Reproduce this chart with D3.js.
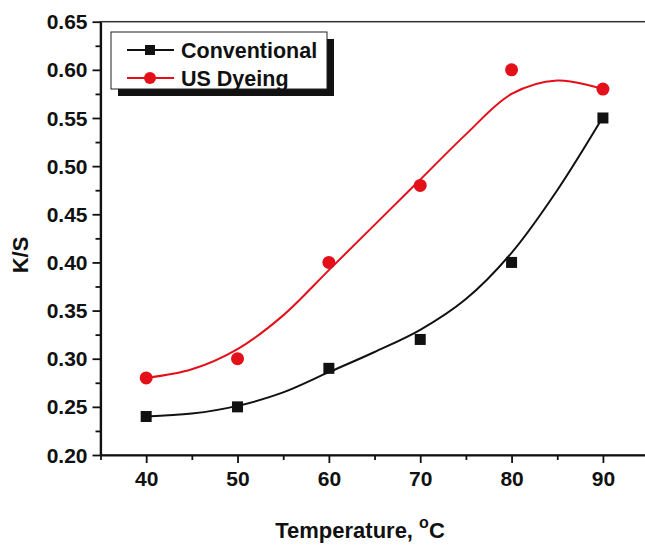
<!DOCTYPE html>
<html>
<head>
<meta charset="utf-8">
<script src="https://cdn.jsdelivr.net/npm/d3@7"></script>
<style>
  body { margin: 0; background: #fff; }
  text { font-family: "Liberation Sans", Arial, sans-serif; font-weight: bold; fill: #111; }
</style>
</head>
<body>
<div id="chart"></div>
<script>
var width = 645, height = 545;

// measured points
var temps = [40, 50, 60, 70, 80, 90];
var conventional = [0.24, 0.25, 0.29, 0.32, 0.40, 0.55];
var usDyeing = [0.28, 0.30, 0.40, 0.48, 0.60, 0.58];

// fitted curves
var fitTemps = [40, 45, 50, 55, 60, 65, 70, 75, 80, 85, 90];
var fitConventional = [0.240, 0.243, 0.251, 0.265, 0.286, 0.307, 0.330, 0.362, 0.410, 0.475, 0.551];
var fitUS = [0.280, 0.289, 0.310, 0.345, 0.392, 0.439, 0.486, 0.533, 0.575, 0.589, 0.580];

var xTicks = [40, 50, 60, 70, 80, 90];
var yTicks = [0.20, 0.25, 0.30, 0.35, 0.40, 0.45, 0.50, 0.55, 0.60, 0.65];

var seriesNames = ["Conventional", "US Dyeing"];
var colors = ["#111111", "#e3101a"];

var svg = d3.select("#chart").append("svg")
    .attr("width", width)
    .attr("height", height);

var x = d3.scaleLinear().domain([35, 95]).range([100.5, 648.6]);
var y = d3.scaleLinear().domain([0.20, 0.65]).range([455, 21.7]);

// frame (right side falls off the canvas)
svg.append("rect")
    .attr("x", x(35)).attr("y", y(0.65))
    .attr("width", x(95) - x(35)).attr("height", y(0.20) - y(0.65))
    .attr("fill", "none").attr("stroke", "#333").attr("stroke-width", 1.5);

// minor ticks
svg.append("g")
    .attr("transform", "translate(0," + y(0.20) + ")")
    .call(d3.axisBottom(x).tickValues([35, 45, 55, 65, 75, 85, 95]).tickSize(5).tickFormat(""))
    .call(g => g.select(".domain").remove())
    .selectAll("line").attr("stroke", "#111").attr("stroke-width", 1.8);

svg.append("g")
    .attr("transform", "translate(" + x(35) + ",0)")
    .call(d3.axisLeft(y).tickValues(d3.range(0.225, 0.65, 0.05)).tickSize(5).tickFormat(""))
    .call(g => g.select(".domain").remove())
    .selectAll("line").attr("stroke", "#111").attr("stroke-width", 1.8);

// major axes
var xAxis = svg.append("g")
    .attr("transform", "translate(0," + y(0.20) + ")")
    .call(d3.axisBottom(x).tickValues(xTicks).tickSize(8).tickPadding(8).tickSizeOuter(0));

var yAxis = svg.append("g")
    .attr("transform", "translate(" + x(35) + ",0)")
    .call(d3.axisLeft(y).tickValues(yTicks).tickSize(8).tickPadding(5).tickSizeOuter(0)
        .tickFormat(d3.format(".2f")));

[xAxis, yAxis].forEach(function(g) {
  g.select(".domain").attr("stroke", "#111").attr("stroke-width", 2.2);
  g.selectAll(".tick line").attr("stroke", "#111").attr("stroke-width", 1.8);
  g.selectAll(".tick text")
      .attr("font-size", 21)
      .attr("font-family", "'Liberation Sans', Arial, sans-serif")
      .attr("font-weight", "bold")
      .attr("fill", "#111");
});
yAxis.selectAll(".tick text").attr("dy", "0.34em");

// axis titles
var xt = svg.append("text")
    .attr("x", 360).attr("y", 538)
    .attr("text-anchor", "middle")
    .attr("font-size", 22);
xt.append("tspan").text("Temperature, ");
xt.append("tspan").attr("font-size", 16).attr("dy", -10).text("o");
xt.append("tspan").attr("dy", 10).text("C");

svg.append("text")
    .attr("transform", "translate(28,255) rotate(-90)")
    .attr("text-anchor", "middle")
    .attr("font-size", 22)
    .text("K/S");

// fitted curves
var line = d3.line()
    .x(function(d) { return x(d[0]); })
    .y(function(d) { return y(d[1]); })
    .curve(d3.curveCatmullRom.alpha(0.5));

[fitConventional, fitUS].forEach(function(vals, i) {
  svg.append("path")
      .datum(fitTemps.map(function(t, j) { return [t, vals[j]]; }))
      .attr("d", line)
      .attr("fill", "none")
      .attr("stroke", colors[i])
      .attr("stroke-width", 2);
});

// markers
svg.append("g").selectAll("rect")
    .data(temps.map(function(t, j) { return [t, conventional[j]]; }))
  .enter().append("rect")
    .attr("x", function(d) { return x(d[0]) - 5.5; })
    .attr("y", function(d) { return y(d[1]) - 5.5; })
    .attr("width", 11).attr("height", 11)
    .attr("fill", colors[0]);

svg.append("g").selectAll("circle")
    .data(temps.map(function(t, j) { return [t, usDyeing[j]]; }))
  .enter().append("circle")
    .attr("cx", function(d) { return x(d[0]); })
    .attr("cy", function(d) { return y(d[1]); })
    .attr("r", 6.5)
    .attr("fill", colors[1]);

// legend
var legend = svg.append("g");
legend.append("rect")
    .attr("x", 118).attr("y", 39).attr("width", 216).attr("height", 57)
    .attr("fill", "#111");
legend.append("rect")
    .attr("x", 111).attr("y", 32).attr("width", 216).attr("height", 57)
    .attr("fill", "#fff").attr("stroke", "#222").attr("stroke-width", 1);

seriesNames.forEach(function(name, i) {
  var ly = 50 + i * 28;
  legend.append("line")
      .attr("x1", 127).attr("x2", 174).attr("y1", ly).attr("y2", ly)
      .attr("stroke", colors[i]).attr("stroke-width", 2);
  if (i === 0) {
    legend.append("rect").attr("x", 145).attr("y", ly - 5).attr("width", 10).attr("height", 10)
        .attr("fill", colors[i]);
  } else {
    legend.append("circle").attr("cx", 150).attr("cy", ly).attr("r", 6)
        .attr("fill", colors[i]);
  }
  legend.append("text")
      .attr("x", 181).attr("y", ly + 8)
      .attr("font-size", 21.5)
      .text(name);
});
</script>
</body>
</html>
